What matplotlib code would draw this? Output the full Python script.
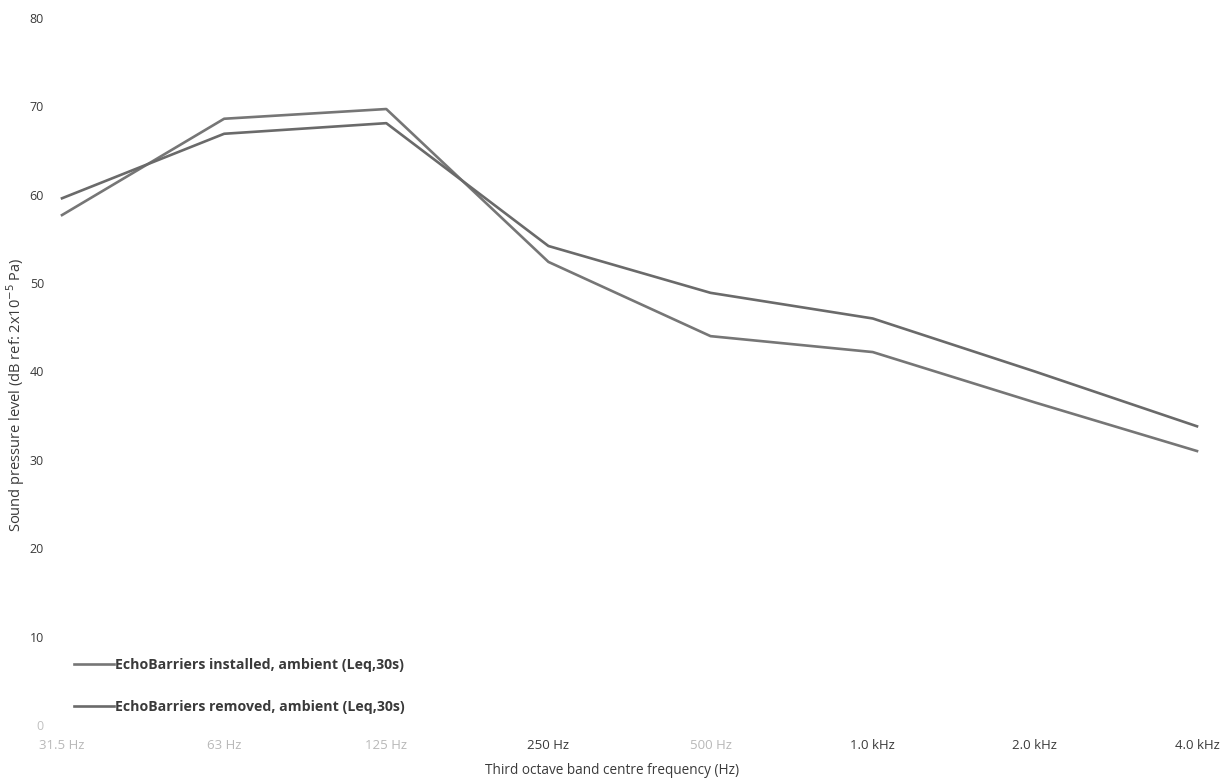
import matplotlib.pyplot as plt

# Third octave band centre frequencies and measured levels (dB)
bandas = ["31.5 Hz", "63 Hz", "125 Hz", "250 Hz", "500 Hz", "1.0 kHz", "2.0 kHz", "4.0 kHz"]
instalado = [57.7, 68.6, 69.7, 52.4, 44.0, 42.2, 36.5, 31.0]
removido = [59.6, 66.9, 68.1, 54.2, 48.9, 46.0, 40.0, 33.8]
rotulo_instalado = "EchoBarriers installed, ambient (Leq,30s)"
rotulo_removido = "EchoBarriers removed, ambient (Leq,30s)"
ticks_y = [0, 10, 20, 30, 40, 50, 60, 70, 80]

plt.rcParams['font.family'] = ['Open Sans', 'DejaVu Sans']

fig = plt.figure(figsize=(12.24, 7.8), dpi=100)
ax = fig.add_axes([62 / 1224, 55 / 780, (1197 - 62) / 1224, (725 - 18) / 780])

x = list(range(len(bandas)))
ax.plot(x, instalado, color='#767676', lw=1.9, label=rotulo_instalado, clip_on=False)
ax.plot(x, removido, color='#6a6a6a', lw=1.9, label=rotulo_removido, clip_on=False)

ax.set_xlim(0, len(bandas) - 1)
ax.set_ylim(0, 80)
ax.set_yticks(ticks_y)
ax.set_yticklabels([str(v) for v in ticks_y], fontsize=9, color='#3a3a3a')
ax.set_xticks(x)
ax.set_xticklabels(bandas, fontsize=9.5, color='#3a3a3a')

# the lighter labels on the scanned sheet
for i in [0, 1, 2, 4]:
    ax.get_xticklabels()[i].set_color('#b8b8b8')
ax.get_yticklabels()[0].set_color('#c0c0c0')

ax.tick_params(axis='both', length=0)
ax.tick_params(axis='y', pad=13)
ax.tick_params(axis='x', pad=10)
for s in ax.spines.values():
    s.set_visible(False)

fig.text(16 / 1224, 385 / 780, "Sound pressure level (dB ref: 2x10$^{-5}$ Pa)",
         rotation=90, ha='center', va='center', fontsize=10.5, color='#3a3a3a')
fig.text(612 / 1224, 9 / 780, "Third octave band centre frequency (Hz)",
         ha='center', va='center', fontsize=9.8, color='#3a3a3a')

leg = ax.legend(loc='lower left', bbox_to_anchor=(74 / 1224, 66 / 780),
                bbox_transform=fig.transFigure, frameon=False,
                handlelength=2.8, handletextpad=0.1, labelspacing=2.0,
                borderpad=0, borderaxespad=0,
                prop={'weight': 'bold', 'size': 10.2})
for t in leg.get_texts():
    t.set_color('#3a3a3a')

fig.savefig("out.png", dpi=100)
